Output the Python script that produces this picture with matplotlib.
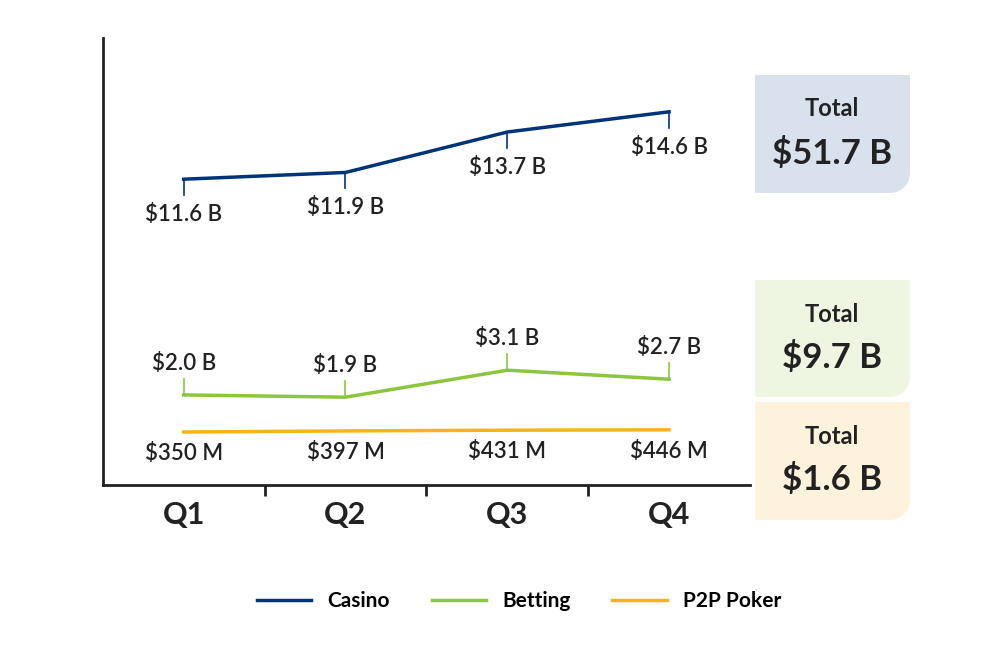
import numpy as np
import matplotlib.pyplot as plt
from matplotlib.patches import Polygon

quarters = ['Q1', 'Q2', 'Q3', 'Q4']
casino = [11.6, 11.9, 13.7, 14.6]
betting = [2.0, 1.9, 3.1, 2.7]
poker = [0.350, 0.397, 0.431, 0.446]
casino_labels = ['$11.6 B', '$11.9 B', '$13.7 B', '$14.6 B']
betting_labels = ['$2.0 B', '$1.9 B', '$3.1 B', '$2.7 B']
poker_labels = ['$350 M', '$397 M', '$431 M', '$446 M']
totals = ['$51.7 B', '$9.7 B', '$1.6 B']

c_casino = '#003478'
c_bet = '#8cc63f'
c_poker = '#f5b51a'
txt = '#222222'
plt.rcParams['font.family'] = ['Lato', 'DejaVu Sans']

fig = plt.figure(figsize=(10.08, 6.49), dpi=100)
ax = fig.add_axes([0.102, 0.253, 0.642, 0.689])
x = np.arange(len(quarters))

ax.plot(x, casino, color=c_casino, lw=2.5, label='Casino')
ax.plot(x, betting, color=c_bet, lw=2.5, label='Betting')
ax.plot(x, poker, color=c_poker, lw=2.5, label='P2P Poker')

for xi, v, s in zip(x, casino, casino_labels):
    ax.plot([xi, xi], [v, v - 0.7], color=c_casino, lw=1.2)
    ax.text(xi, v - 1.1, s, ha='center', va='top', fontsize=16,
            fontweight='semibold', color=txt)
for xi, v, s in zip(x, betting, betting_labels):
    ax.plot([xi, xi], [v, v + 0.7], color=c_bet, lw=1.2)
    ax.text(xi, v + 0.95, s, ha='center', va='bottom', fontsize=16,
            fontweight='semibold', color=txt)
for xi, v, s in zip(x, poker, poker_labels):
    ax.text(xi, v - 0.5, s, ha='center', va='top', fontsize=16,
            fontweight='semibold', color=txt)

ax.set_xlim(-0.5, 3.5)
ax.set_ylim(-2, 17.9)
ax.set_xticks(x)
ax.set_xticklabels(quarters, fontsize=22, fontweight='bold', color=txt)
ax.set_xticks([0.5, 1.5, 2.5], minor=True)
ax.tick_params(axis='x', which='major', length=0, pad=12)
ax.tick_params(axis='x', which='minor', length=8, width=2, color=txt)
ax.set_yticks([])
for sp in ['top', 'right']:
    ax.spines[sp].set_visible(False)
for sp in ['left', 'bottom']:
    ax.spines[sp].set_linewidth(2)
    ax.spines[sp].set_color(txt)

def box(x0, y0, x1, y1, color, r=20):
    # pixel coords, y from top; bottom-right corner rounded
    W, H = 1008, 649
    t = np.linspace(0, np.pi / 2, 12)
    pts = [(x0, y0), (x1, y0), (x1, y1 - r)]
    pts += [(x1 - r + r * np.cos(a), y1 - r + r * np.sin(a)) for a in t]
    pts += [(x0, y1)]
    pts = [(px / W, 1 - py / H) for px, py in pts]
    fig.patches.append(Polygon(pts, closed=True, transform=fig.transFigure,
                               facecolor=color, edgecolor='none'))

boxes = [(75, 193, '#d9e2ec'), (280, 397, '#eef5e1'), (402, 520, '#fdf3dc')]
for (y0, y1, col), tot in zip(boxes, totals):
    box(755, y0, 910, y1, col)
    cx = 832 / 1008
    fig.text(cx, 1 - (y0 + 34) / 649, 'Total', ha='center', va='center',
             fontsize=17, fontweight='bold', color=txt)
    fig.text(cx, 1 - (y0 + 78) / 649, tot, ha='center', va='center',
             fontsize=25, fontweight='bold', color=txt)

fig.legend(loc='center', bbox_to_anchor=(0.515, 1 - 601 / 649), ncol=3,
           frameon=False, handlelength=2.6, columnspacing=2.0,
           prop={'weight': 'bold', 'size': 15})

fig.savefig('out.png', dpi=100)
